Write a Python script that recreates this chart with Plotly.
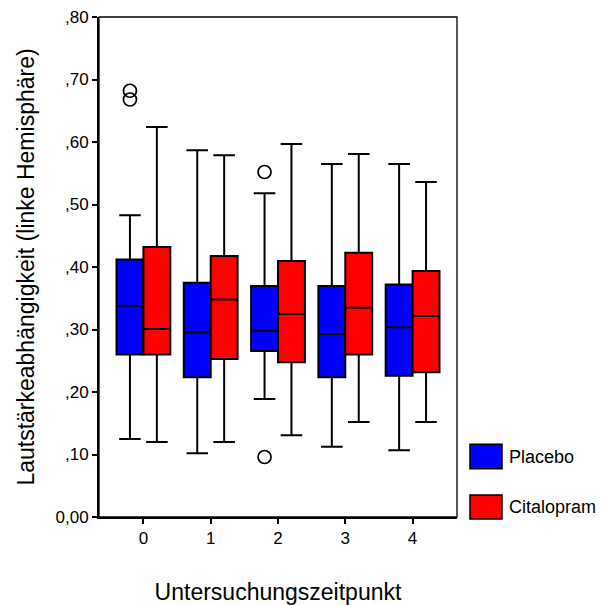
import plotly.graph_objects as go

# ---- data ----
time_points = [0, 1, 2, 3, 4]
tick_labels_x = ["0", "1", "2", "3", "4"]

placebo_lower = [0.125, 0.102, 0.189, 0.1125, 0.107]
placebo_q1 = [0.260, 0.2235, 0.2656, 0.2235, 0.226]
placebo_median = [0.338, 0.2955, 0.298, 0.2928, 0.3035]
placebo_q3 = [0.412, 0.375, 0.3696, 0.3696, 0.372]
placebo_upper = [0.483, 0.587, 0.518, 0.565, 0.565]

citalopram_lower = [0.120, 0.120, 0.131, 0.152, 0.152]
citalopram_q1 = [0.260, 0.2528, 0.2475, 0.260, 0.2315]
citalopram_median = [0.301, 0.348, 0.3248, 0.335, 0.3216]
citalopram_q3 = [0.432, 0.4176, 0.4096, 0.423, 0.3936]
citalopram_upper = [0.624, 0.579, 0.597, 0.581, 0.536]

placebo_outlier_time = [0, 0, 2, 2]
placebo_outlier_value = [0.682, 0.668, 0.552, 0.096]

y_tick_values = [0.0, 0.1, 0.2, 0.3, 0.4, 0.5, 0.6, 0.7, 0.8]
y_tick_labels = ["0,00", ",10", ",20", ",30", ",40", ",50", ",60", ",70", ",80"]

series_names = ["Placebo", "Citalopram"]
series_colors = ["#0000FF", "#FF0000"]

FONT = "Liberation Sans, Arial, sans-serif"
GROUP_OFFSET = 0.2  # half of a box width within the group (boxgap 0.2 -> group width 0.8)

fig = go.Figure()

fig.add_trace(go.Box(
    x=time_points, q1=placebo_q1, median=placebo_median, q3=placebo_q3,
    lowerfence=placebo_lower, upperfence=placebo_upper,
    name=series_names[0], fillcolor=series_colors[0],
    line=dict(color="black", width=2), whiskerwidth=0.8,
    offsetgroup="placebo", showlegend=False, hoverinfo="skip",
))
fig.add_trace(go.Box(
    x=time_points, q1=citalopram_q1, median=citalopram_median, q3=citalopram_q3,
    lowerfence=citalopram_lower, upperfence=citalopram_upper,
    name=series_names[1], fillcolor=series_colors[1],
    line=dict(color="black", width=2), whiskerwidth=0.8,
    offsetgroup="citalopram", showlegend=False, hoverinfo="skip",
))
fig.add_trace(go.Scatter(
    x=[t - GROUP_OFFSET for t in placebo_outlier_time], y=placebo_outlier_value,
    mode="markers",
    marker=dict(symbol="circle-open", size=13, color="black", line=dict(width=1.7)),
    showlegend=False, hoverinfo="skip",
))

# manual legend (swatches + labels)
legend_rows = [(0.1454, 0.0966, 0.121), (0.044, -0.004, 0.020)]
shapes = []
annotations = []
for name, color, (y0, y1, yc) in zip(series_names, series_colors, legend_rows):
    shapes.append(dict(type="rect", xref="paper", yref="paper",
                       x0=1.0363, x1=1.1257, y0=y1, y1=y0,
                       fillcolor=color, line=dict(color="black", width=1.5)))
    annotations.append(dict(xref="paper", yref="paper", x=1.1397, y=yc,
                            text=name, showarrow=False, xanchor="left", yanchor="middle",
                            font=dict(family=FONT, size=18, color="black")))

# thin frame around plot area
shapes.append(dict(type="rect", xref="paper", yref="paper", x0=0, x1=1, y0=0, y1=1,
                   line=dict(color="black", width=1.3), layer="above"))

fig.update_layout(
    width=602, height=605, autosize=False,
    margin=dict(l=99, r=145, t=17, b=88),
    paper_bgcolor="white", plot_bgcolor="white",
    boxmode="group", boxgap=0.2, boxgroupgap=0.0,
    font=dict(family=FONT, color="black"),
    shapes=shapes, annotations=annotations,
    xaxis=dict(
        range=[-0.66, 4.66], tickvals=time_points, ticktext=tick_labels_x,
        showgrid=False, zeroline=False, showline=True, linecolor="black", linewidth=2,
        ticks="outside", ticklen=5, tickwidth=1.5, tickcolor="black",
        tickfont=dict(family=FONT, size=17), automargin=False,
        title=dict(text="Untersuchungszeitpunkt", font=dict(family=FONT, size=23), standoff=36),
    ),
    yaxis=dict(
        range=[0, 0.8], tickvals=y_tick_values, ticktext=y_tick_labels,
        showgrid=False, zeroline=False, showline=True, linecolor="black", linewidth=2,
        ticks="outside", ticklen=5, tickwidth=1.5, tickcolor="black",
        tickfont=dict(family=FONT, size=17), automargin=False,
        title=dict(text="Lautstärkeabhängigkeit (linke Hemisphäre)",
                   font=dict(family=FONT, size=23), standoff=14),
    ),
)

fig.write_html("out.html")
